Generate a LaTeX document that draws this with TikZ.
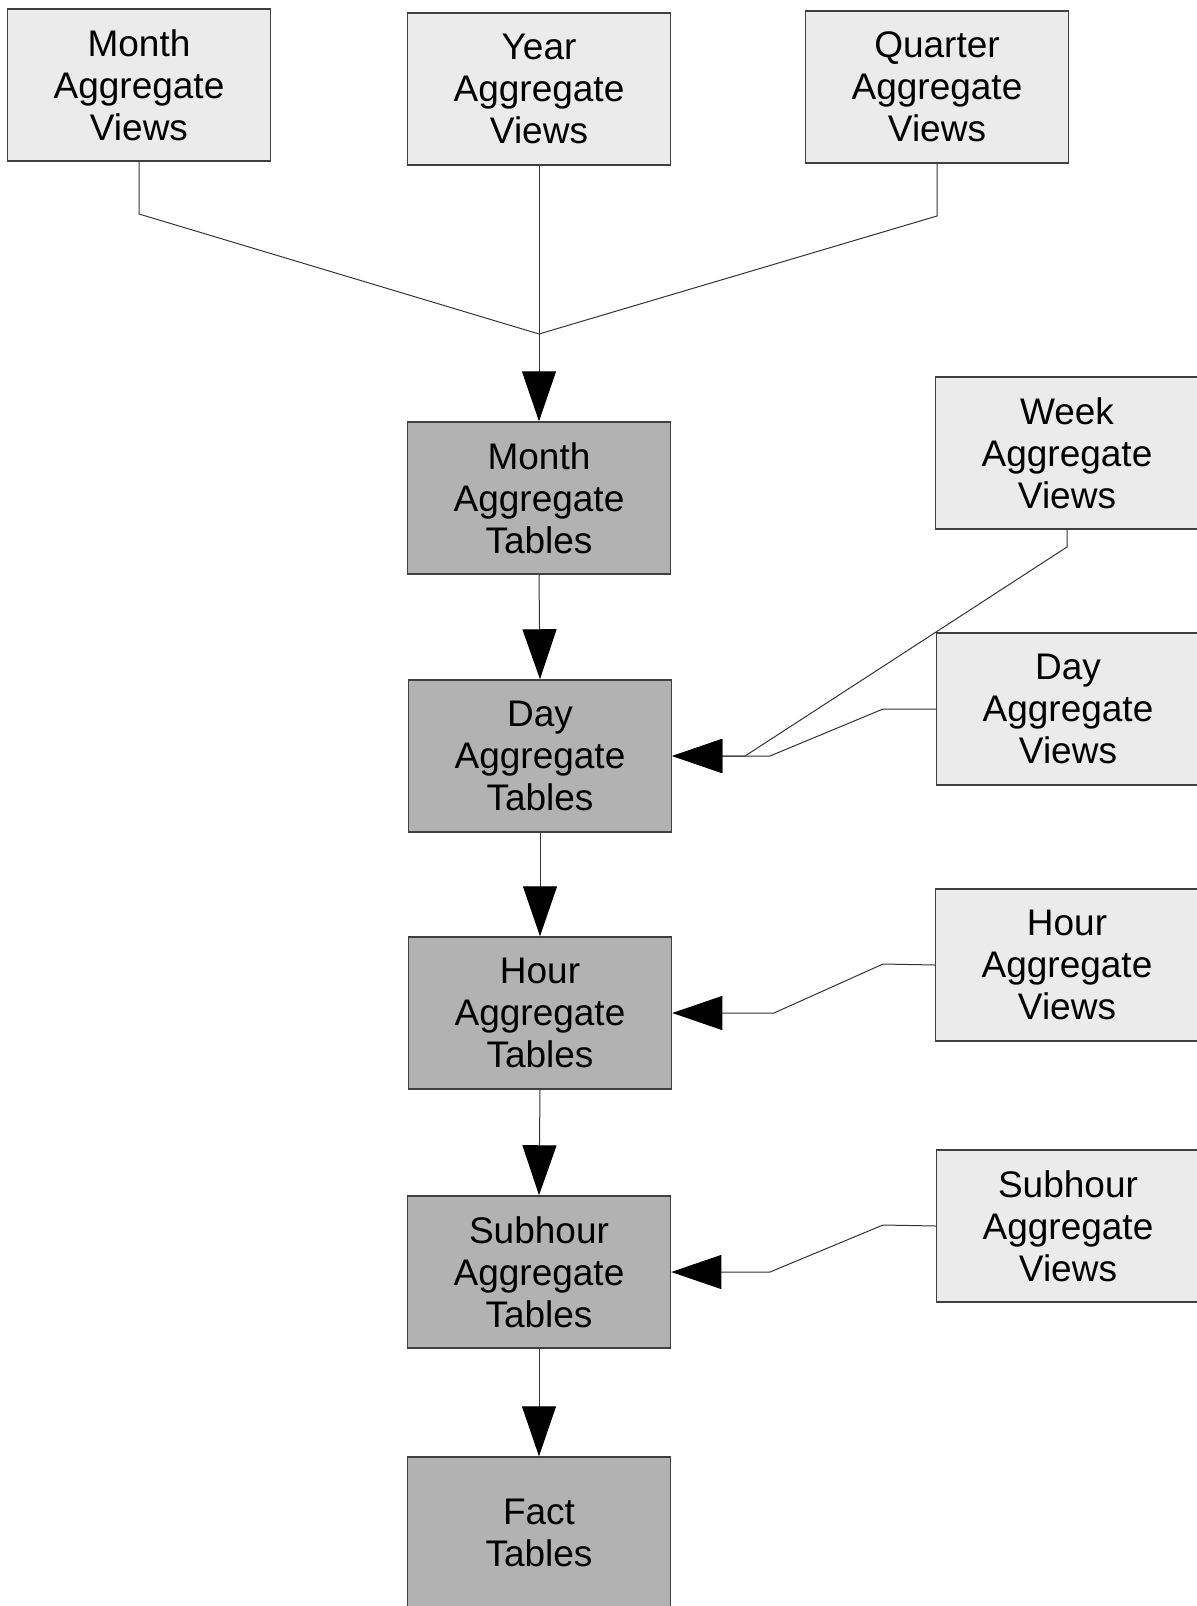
\documentclass[tikz,border=0pt]{standalone}
\usepackage{fontspec}
\setmainfont{Liberation Sans}
\usetikzlibrary{arrows.meta}
\definecolor{boxline}{HTML}{404040}
\definecolor{viewfill}{HTML}{EBEBEB}
\definecolor{tablefill}{HTML}{B2B2B2}
\tikzset{
  viewcell/.style={draw=boxline, fill=viewfill, line width=0.75pt, minimum width=131.5pt, minimum height=76pt, inner sep=0pt, align=center, font=\fontsize{18.5}{21}\selectfont},
  tablecell/.style={viewcell, fill=tablefill},
  link/.style={line width=0.5pt, draw=black!80},
  feed/.style={link, -{Triangle[length=25pt, width=17pt, black]}}
}
\newcommand{\viewbox}[4]{\node[viewcell] (#1) at ( #2 , #3 ) {#4};}
\newcommand{\tablebox}[4]{\node[tablecell] (#1) at ( #2 , #3 ) {#4};}

\begin{document}
\begin{tikzpicture}[x=0.5pt, y=-0.5pt]
        \useasboundingbox (0,0) rectangle (1197,1606);
        % top row
        \viewbox{mav}{139}{85}{Month\\Aggregate\\Views}
        \viewbox{yav}{539}{89}{Year\\Aggregate\\Views}
        \viewbox{qav}{937}{87}{Quarter\\Aggregate\\Views}

        % table column
        \tablebox{mat}{539}{498}{Month\\Aggregate\\Tables}
        \tablebox{dat}{540}{756}{Day\\Aggregate\\Tables}
        \tablebox{hat}{540}{1013}{Hour\\Aggregate\\Tables}
        \tablebox{sat}{539}{1272}{Subhour\\Aggregate\\Tables}
        \tablebox{fat}{539}{1533}{Fact\\Tables}

        % right column
        \viewbox{wav}{1067}{453}{Week\\Aggregate\\Views}
        \viewbox{dav}{1068}{709}{Day\\Aggregate\\Views}
        \viewbox{hav}{1067}{965}{Hour\\Aggregate\\Views}
        \viewbox{sav}{1068}{1226}{Subhour\\Aggregate\\Views}

        % merge point
        \coordinate (join) at (539,334);
        \draw[link] (mav.south) -- (139,214) -- (join);
        \draw[link] (qav.south) -- (937,216) -- (join);
        \draw[link] (yav.south) -- (join);
        \draw[feed] (join) -- (mat.north);

        % down the tables
        \draw[feed] (mat.south) -- (dat.north);
        \draw[feed] (dat.south) -- (hat.north);
        \draw[feed] (hat.south) -- (sat.north);
        \draw[feed] (sat.south) -- (fat.north);

        % views into tables
        \draw[feed] (wav.south) -- (1067,547) -- (745,756) -- (dat.east);
        \draw[feed] (dav.west) -- (883,709) -- (770,756) -- (dat.east);
        \draw[feed] (hav.west) -- (883,964) -- (774,1013) -- (hat.east);
        \draw[feed] (sav.west) -- (883,1225) -- (770,1272) -- (sat.east);
\end{tikzpicture}
\end{document}
